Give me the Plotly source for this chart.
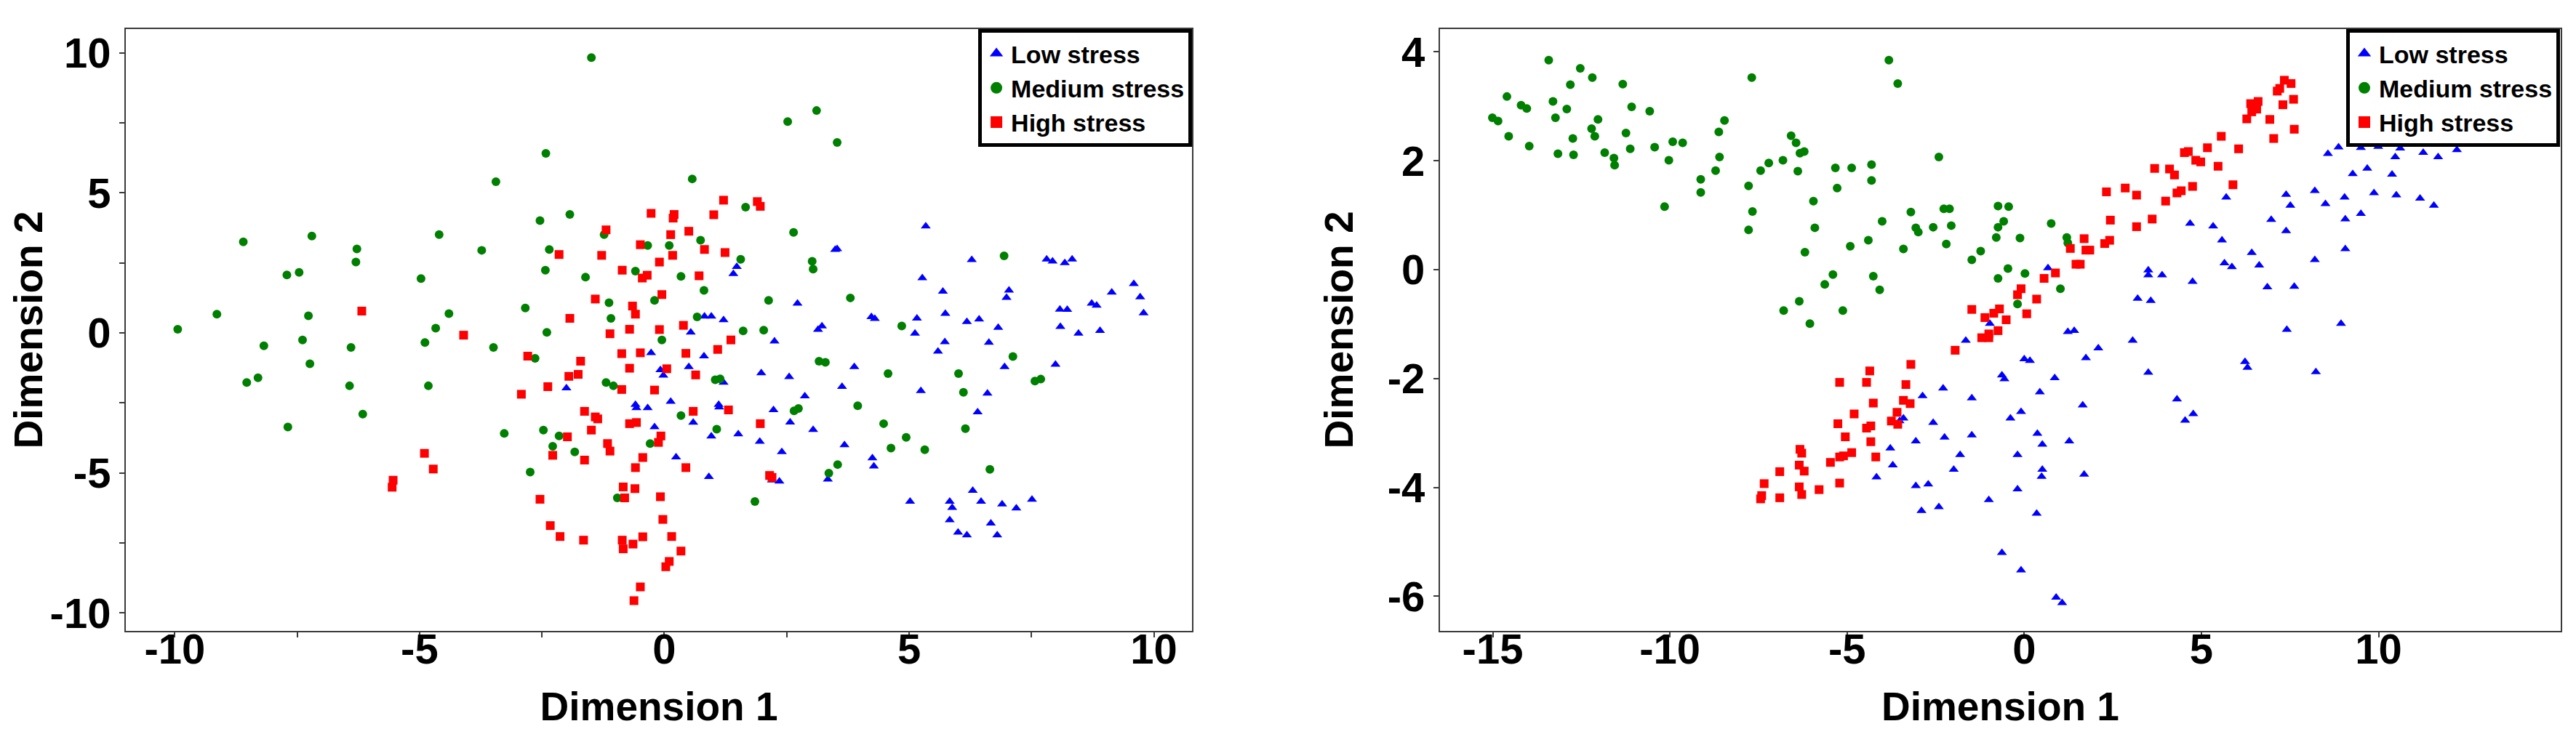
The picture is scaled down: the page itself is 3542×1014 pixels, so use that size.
import plotly.graph_objects as go
from plotly.subplots import make_subplots

# ---- left panel (x, y) pairs ----
left_low = [(5.34, 3.81), (3.49, 2.97), (3.53, 3.00), (6.28, 2.61), (7.81, 2.63), (7.93, 2.56), (8.18, 2.50),
            (8.33, 2.63), (1.48, 2.36), (1.41, 2.11), (5.27, 1.96), (9.59, 1.75), (5.69, 1.48), (7.04, 1.52),
            (6.99, 1.26), (9.14, 1.45), (9.72, 1.28), (2.72, 1.05), (8.73, 1.05), (8.83, 0.98), (8.08, 0.84),
            (8.23, 0.83), (9.79, 0.71), (5.74, 0.69), (0.82, 0.59), (0.96, 0.59), (1.21, 0.46), (4.23, 0.57),
            (4.30, 0.51), (5.16, 0.52), (6.18, 0.40), (6.43, 0.49), (6.82, 0.19), (3.22, 0.24), (3.14, 0.12),
            (8.09, 0.22), (8.46, -0.02), (8.90, 0.08), (0.54, 0.02), (5.12, -0.02), (2.25, -0.30), (5.73, -0.32),
            (6.63, -0.34), (5.59, -0.66), (-0.27, -0.71), (0.81, -0.83), (6.95, -1.21), (7.99, -1.13),
            (-0.08, -1.32), (-0.02, -1.52), (0.50, -1.21), (3.88, -1.21), (1.98, -1.43), (2.55, -1.57),
            (1.21, -1.77), (3.63, -1.92), (-2.00, -1.97), (5.24, -2.07), (6.60, -2.16), (2.87, -2.26),
            (0.13, -2.45), (-0.59, -2.56), (-0.57, -2.68), (-0.34, -2.68), (1.11, -2.56), (1.12, -2.65),
            (2.23, -2.75), (6.40, -2.83), (0.59, -3.20), (-0.20, -3.36), (2.57, -3.19), (3.04, -3.46),
            (1.51, -3.61), (0.96, -3.69), (1.95, -3.88), (3.68, -4.00), (2.40, -4.25), (0.24, -4.44),
            (4.25, -4.47), (4.28, -4.76), (0.91, -5.14), (2.20, -5.26), (2.35, -5.30), (3.34, -5.23),
            (5.02, -6.02), (5.83, -6.02), (5.88, -6.24), (6.30, -5.63), (6.47, -6.02), (6.90, -6.12),
            (7.19, -6.26), (7.51, -5.95), (5.83, -6.68), (6.00, -7.12), (6.18, -7.22), (6.67, -6.80),
            (6.80, -7.22)]

left_medium = [(-1.49, 9.83), (2.52, 7.55), (3.11, 7.94), (3.53, 6.80), (-2.42, 6.41), (0.57, 5.50),
               (-3.44, 5.40), (1.66, 4.49), (-1.93, 4.23), (-2.54, 4.01), (2.64, 3.59), (-8.60, 3.25),
               (-7.20, 3.46), (-4.60, 3.51), (-6.28, 3.00), (-3.73, 2.95), (-1.23, 3.51), (-2.35, 2.98),
               (-0.34, 3.12), (0.10, 3.12), (0.74, 3.31), (-6.30, 2.53), (-7.71, 2.07), (-7.46, 2.16),
               (-4.97, 1.94), (-2.43, 2.24), (-1.61, 1.99), (-0.59, 2.21), (0.34, 2.02), (1.56, 2.63),
               (3.02, 2.56), (3.04, 2.28), (6.94, 2.75), (0.81, 1.52), (-1.13, 1.08), (-0.20, 1.16),
               (2.13, 1.16), (3.80, 1.25), (-2.84, 0.89), (-9.14, 0.67), (-7.27, 0.61), (-4.40, 0.69),
               (-1.09, 0.52), (0.67, 0.57), (-9.94, 0.13), (-4.67, 0.17), (-2.40, 0.02), (1.61, 0.07),
               (2.03, 0.10), (4.85, 0.25), (-8.18, -0.46), (-7.39, -0.25), (-4.89, -0.34), (-6.40, -0.52),
               (-3.49, -0.52), (-0.05, -0.25), (-2.64, -0.91), (-7.24, -1.10), (3.16, -1.01), (3.29, -1.05),
               (7.12, -0.84), (-8.53, -1.77), (-8.30, -1.60), (-6.43, -1.89), (-4.82, -1.89), (-1.19, -1.77),
               (-1.04, -1.89), (1.04, -1.67), (1.14, -1.64), (4.57, -1.45), (6.01, -1.45), (6.11, -2.12),
               (7.57, -1.72), (7.69, -1.65), (-6.16, -2.90), (-7.69, -3.36), (3.95, -2.60), (2.65, -2.78),
               (2.74, -2.70), (0.34, -2.95), (-3.27, -3.59), (-2.47, -3.47), (-2.15, -3.68), (1.07, -3.44),
               (-2.28, -4.05), (-1.83, -4.25), (-0.29, -3.95), (4.48, -3.24), (6.15, -3.42), (4.94, -3.73),
               (4.63, -4.11), (5.32, -4.17), (-2.74, -4.97), (3.54, -4.70), (3.36, -5.01), (6.65, -4.87),
               (-0.96, -5.89), (1.85, -6.02)]

left_high = [(1.21, 4.74), (1.90, 4.69), (1.96, 4.52), (-0.27, 4.27), (0.20, 4.23), (0.18, 4.10), (1.01, 4.22),
             (-1.19, 3.68), (0.13, 3.51), (0.50, 3.63), (-2.15, 2.80), (-1.28, 2.77), (-0.49, 3.15), (0.82, 2.98),
             (1.24, 2.87), (0.17, 2.77), (-0.10, 2.53), (-0.86, 2.24), (-0.35, 2.06), (-0.45, 1.96), (0.71, 2.04),
             (-0.05, 1.37), (-1.41, 1.21), (-0.65, 0.96), (-6.18, 0.78), (-1.93, 0.52), (-0.59, 0.67),
             (-0.71, 0.13), (-0.10, 0.12), (0.39, 0.27), (-4.10, -0.08), (-1.11, -0.03), (1.36, -0.25),
             (-2.79, -0.83), (-0.87, -0.74), (-0.49, -0.71), (0.44, -0.73), (1.09, -0.59), (-1.71, -1.01),
             (-0.71, -1.26), (0.05, -1.28), (-1.95, -1.55), (-1.76, -1.48), (0.64, -1.50), (-2.38, -1.92),
             (-0.87, -2.02), (-0.20, -2.04), (-2.92, -2.19), (-1.63, -2.80), (-1.41, -3.00), (-1.36, -3.07),
             (0.59, -2.80), (1.31, -2.75), (-0.71, -3.24), (-0.57, -3.20), (1.96, -3.24), (-1.49, -3.47),
             (-1.98, -3.71), (-0.07, -3.68), (-0.12, -3.91), (-1.16, -3.95), (-1.11, -4.22), (-4.90, -4.30),
             (-2.28, -4.37), (-1.63, -4.54), (-0.44, -4.45), (-4.72, -4.86), (-0.59, -4.81), (0.44, -4.81),
             (2.15, -5.09), (2.20, -5.16), (-5.54, -5.26), (-5.56, -5.51), (-0.84, -5.50), (-0.60, -5.56),
             (-2.54, -5.94), (-0.81, -5.89), (-0.08, -5.85), (-0.03, -6.66), (-2.33, -6.88), (-2.13, -7.27),
             (-1.65, -7.40), (-0.86, -7.40), (-0.44, -7.28), (0.15, -7.27), (-0.84, -7.71), (-0.64, -7.54),
             (0.34, -7.79), (0.10, -8.16), (0.03, -8.35), (-0.49, -9.07), (-0.62, -9.56)]

# ---- right panel ----
right_low = [(9.62, 2.45), (8.57, 2.13), (8.87, 2.25), (9.50, 2.24), (9.99, 2.26), (10.47, 2.07), (10.61, 2.23),
             (11.26, 2.15), (11.68, 2.07), (12.21, 2.20), (9.27, 1.76), (9.68, 1.86), (10.38, 1.75), (7.39, 1.38),
             (5.70, 1.33), (8.20, 1.45), (8.50, 1.21), (9.04, 1.33), (9.87, 1.41), (10.50, 1.37), (11.17, 1.31),
             (11.56, 1.18), (7.51, 1.18), (9.06, 0.93), (9.50, 1.03), (4.68, 0.85), (5.33, 0.80), (6.97, 0.92),
             (7.39, 0.71), (5.58, 0.54), (9.06, 0.38), (6.42, 0.31), (5.65, 0.12), (5.86, 0.05), (6.63, 0.08),
             (8.20, 0.18), (3.50, -0.01), (3.50, -0.10), (3.89, -0.10), (4.75, -0.22), (0.67, 0.03),
             (6.86, -0.32), (7.62, -0.31), (3.20, -0.53), (3.57, -0.57), (7.41, -1.10), (8.94, -0.99),
             (-0.97, -0.99), (-1.65, -1.30), (1.23, -1.14), (1.41, -1.12), (3.06, -1.30), (2.09, -1.44),
             (1.74, -1.62), (0.00, -1.64), (0.16, -1.67), (-0.63, -1.94), (-0.56, -2.01), (0.86, -1.99),
             (3.50, -1.89), (6.23, -1.69), (6.30, -1.80), (8.23, -1.88), (-2.29, -2.18), (-2.87, -2.32),
             (-1.48, -2.36), (0.44, -2.25), (1.65, -2.49), (4.31, -2.38), (-0.09, -2.61), (-0.39, -2.73),
             (4.77, -2.65), (4.54, -2.77), (-3.41, -2.73), (-2.57, -2.81), (-3.52, -2.78), (0.37, -3.01),
             (0.51, -3.21), (1.27, -3.15), (-3.06, -3.15), (-2.25, -3.08), (-1.48, -3.04), (-3.78, -3.28),
             (-3.71, -3.59), (-1.81, -3.40), (-0.19, -3.40), (-1.99, -3.67), (-4.17, -3.81), (0.51, -3.67),
             (0.49, -3.80), (1.69, -3.76), (-3.06, -3.97), (-2.71, -3.94), (-0.19, -4.03), (-1.00, -4.23),
             (-2.90, -4.43), (-2.41, -4.36), (0.35, -4.48), (-0.63, -5.20), (-0.09, -5.52), (0.90, -6.02),
             (1.07, -6.12)]

right_medium = [(-13.42, 3.85), (-3.82, 3.85), (-12.53, 3.70), (-3.57, 3.42), (-12.19, 3.53), (-11.33, 3.41),
                (-12.81, 3.40), (-7.69, 3.53), (-14.60, 3.18), (-13.30, 3.09), (-14.20, 3.02), (-14.04, 2.96),
                (-12.91, 2.95), (-11.08, 2.99), (-10.57, 2.91), (-15.01, 2.79), (-14.85, 2.73), (-13.23, 2.79),
                (-12.03, 2.76), (-8.46, 2.74), (-12.21, 2.59), (-14.55, 2.45), (-12.74, 2.41), (-12.12, 2.45),
                (-11.24, 2.51), (-8.62, 2.53), (-6.58, 2.46), (-6.44, 2.33), (-13.97, 2.27), (-10.43, 2.25),
                (-9.92, 2.35), (-9.64, 2.33), (-11.12, 2.22), (-13.16, 2.13), (-12.72, 2.11), (-11.84, 2.15),
                (-11.58, 2.05), (-11.56, 1.92), (-10.03, 2.01), (-8.60, 2.07), (-6.33, 2.14), (-6.21, 2.17),
                (-7.21, 1.96), (-6.81, 2.01), (-2.41, 2.07), (-8.71, 1.82), (-7.44, 1.82), (-6.39, 1.81),
                (-5.33, 1.87), (-4.87, 1.87), (-4.31, 1.93), (-4.31, 1.64), (-9.13, 1.66), (-9.13, 1.42),
                (-7.78, 1.54), (-5.28, 1.50), (-10.15, 1.16), (-5.95, 1.26), (-7.67, 1.07), (-3.20, 1.06),
                (-2.27, 1.12), (-2.11, 1.12), (-0.74, 1.17), (-0.44, 1.16), (-4.01, 0.89), (-7.78, 0.73),
                (-5.91, 0.77), (-3.06, 0.77), (-2.99, 0.69), (-2.57, 0.78), (-2.06, 0.81), (-0.58, 0.89),
                (0.76, 0.85), (-0.74, 0.78), (-4.40, 0.54), (-4.91, 0.43), (-3.41, 0.38), (-2.20, 0.47),
                (-0.79, 0.59), (-0.12, 0.58), (1.20, 0.59), (1.23, 0.49), (-6.19, 0.32), (-1.23, 0.34),
                (-1.48, 0.18), (-0.46, 0.02), (-5.40, -0.09), (-4.26, -0.12), (-0.74, -0.16), (0.02, -0.07),
                (-5.63, -0.27), (-4.08, -0.37), (1.02, -0.35), (-6.35, -0.58), (-0.19, -0.63), (-6.79, -0.75),
                (-5.12, -0.75), (-6.05, -0.99)]

right_high = [(7.34, 3.48), (7.53, 3.42), (7.14, 3.28), (7.21, 3.33), (6.60, 3.09), (6.39, 3.05), (6.56, 2.95),
              (6.42, 2.90), (7.60, 3.13), (7.30, 3.03), (6.28, 2.77), (6.93, 2.76), (7.62, 2.58), (7.04, 2.41),
              (5.56, 2.45), (5.17, 2.24), (6.05, 2.22), (4.52, 2.15), (4.63, 2.17), (4.84, 2.01), (4.98, 1.98),
              (5.47, 1.90), (3.68, 1.86), (4.10, 1.85), (4.24, 1.74), (4.75, 1.53), (4.43, 1.45), (4.31, 1.41),
              (5.89, 1.56), (2.32, 1.43), (2.85, 1.50), (3.17, 1.37), (3.99, 1.26), (2.43, 0.91), (3.61, 0.93),
              (3.17, 0.79), (1.69, 0.57), (1.30, 0.39), (1.74, 0.36), (1.85, 0.36), (2.41, 0.54), (2.27, 0.48),
              (1.46, 0.10), (1.58, 0.10), (0.88, -0.06), (0.56, -0.16), (-0.09, -0.35), (-0.19, -0.46),
              (0.35, -0.54), (0.07, -0.81), (-1.48, -0.73), (-0.70, -0.72), (-0.86, -0.80), (-1.11, -0.88),
              (-0.51, -0.92), (-0.74, -1.12), (-1.00, -1.18), (-1.20, -1.25), (-1.00, -1.25), (-1.95, -1.48),
              (-3.20, -1.74), (-4.36, -1.86), (-5.21, -2.07), (-4.45, -2.07), (-3.34, -2.11), (-4.26, -2.45),
              (-3.41, -2.40), (-3.22, -2.46), (-4.80, -2.65), (-5.26, -2.83), (-3.59, -2.62), (-4.45, -2.91),
              (-4.33, -2.87), (-3.75, -2.78), (-3.57, -2.84), (-5.05, -3.07), (-4.33, -3.16), (-6.33, -3.30),
              (-6.28, -3.37), (-5.21, -3.44), (-5.10, -3.42), (-4.87, -3.36), (-5.47, -3.54), (-4.19, -3.44),
              (-6.35, -3.59), (-6.21, -3.70), (-6.90, -3.71), (-7.34, -3.93), (-5.21, -3.92), (-6.35, -3.99),
              (-5.79, -4.04), (-7.41, -4.15), (-7.44, -4.21), (-6.90, -4.19), (-6.28, -4.13)]

# tick positions / labels (hyphen minus, as in the original)
left_ticks = [-10, -5, 0, 5, 10]
right_xticks = [-15, -10, -5, 0, 5, 10]
right_yticks = [-6, -4, -2, 0, 2, 4]

classes = ["Low stress", "Medium stress", "High stress"]
colors = {"Low stress": "#0000ff", "Medium stress": "#008000", "High stress": "#ff0000"}
symbols = {"Low stress": "triangle-up", "Medium stress": "circle", "High stress": "square"}

FONT = "Liberation Sans, Arial, sans-serif"

fig = make_subplots(rows=1, cols=2)

panels = [
    (1, "legend", [left_low, left_medium, left_high]),
    (2, "legend2", [right_low, right_medium, right_high]),
]
for col, leg, series in panels:
    for name, pts in zip(classes, series):
        xs = [p[0] for p in pts]
        ys = [p[1] for p in pts]
        fig.add_trace(go.Scatter(
            x=xs, y=ys, mode="markers", name=name, showlegend=False,
            marker=dict(symbol=symbols[name], color=colors[name], size=12, line=dict(width=0)),
        ), row=1, col=col)
        # legend-only entry with a bigger symbol
        fig.add_trace(go.Scatter(
            x=[None], y=[None], mode="markers", name=name, legend=leg,
            marker=dict(symbol=symbols[name], color=colors[name], size=16, line=dict(width=0)),
        ), row=1, col=col)

axis_common = dict(
    showline=True, linecolor="#3a3a3a", linewidth=2, mirror=True,
    ticks="outside", ticklen=7, tickwidth=2, tickcolor="#3a3a3a",
    showgrid=False, zeroline=False, automargin=False,
    tickfont=dict(family=FONT, size=58, color="black", weight="bold"),
    title_font=dict(family=FONT, size=55, color="black", weight="bold"),
)
minor_left = dict(ticks="outside", tickmode="linear", tick0=0, dtick=2.5,
                  ticklen=7, tickwidth=2, tickcolor="#3a3a3a")

fig.update_xaxes(axis_common)
fig.update_yaxes(axis_common)

fig.update_xaxes(domain=[0, 0.4379], range=[-11.0, 10.78], tickmode="array",
                 tickvals=left_ticks, ticktext=[str(v) for v in left_ticks],
                 minor=minor_left, title_text="Dimension 1",
                 ticklabelstandoff=-34, title_standoff=29, row=1, col=1)
fig.update_yaxes(domain=[0, 1], range=[-10.64, 10.85], tickmode="array",
                 tickvals=left_ticks, ticktext=[str(v) for v in left_ticks],
                 minor=minor_left, title_text="Dimension 2", title_standoff=5, row=1, col=1)
fig.update_xaxes(domain=[0.5397, 1.0], range=[-16.49, 15.14], tickmode="array",
                 tickvals=right_xticks, ticktext=[str(v) for v in right_xticks],
                 title_text="Dimension 1",
                 ticklabelstandoff=-34, title_standoff=29, row=1, col=2)
fig.update_yaxes(domain=[0, 1], range=[-6.635, 4.42], tickmode="array",
                 tickvals=right_yticks, ticktext=[str(v) for v in right_yticks],
                 title_text="Dimension 2", title_standoff=29, row=1, col=2)

legend_common = dict(
    bgcolor="white", bordercolor="black", borderwidth=5,
    font=dict(family=FONT, size=34, color="black", weight="bold"),
    xanchor="right", yanchor="top", tracegroupgap=0, itemsizing="trace",
)
fig.update_layout(
    width=3542, height=1014,
    margin=dict(l=165, r=29, t=32, b=154),
    plot_bgcolor="white", paper_bgcolor="white",
    legend=dict(legend_common, x=0.4379, y=1.0),
    legend2=dict(legend_common, x=0.9997, y=1.0),
)

fig.write_html("out.html")
